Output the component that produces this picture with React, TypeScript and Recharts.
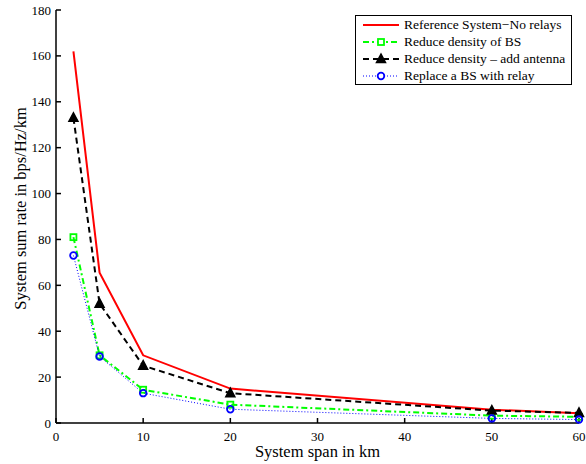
import React from 'react';
import { LineChart, Line, XAxis, YAxis, Legend } from 'recharts';

const spans = [2, 5, 10, 20, 50, 60];
const refSystem = [162, 65.5, 29.5, 15, 5.8, 4.3];
const reduceDensity = [81, 29.5, 14.5, 8, 3.2, 2.7];
const addAntenna = [133, 52, 25, 13, 5.4, 4.4];
const relayBS = [73, 29, 13, 6, 2, 1.5];

const xTicks = [0, 10, 20, 30, 40, 50, 60];
const yTicks = [0, 20, 40, 60, 80, 100, 120, 140, 160, 180];

const seriesNames = [
  'Reference System\u2212No relays',
  'Reduce density of BS',
  'Reduce density \u2013 add antenna',
  'Replace a BS with relay',
];
const xLabel = 'System span in km';
const yLabel = 'System sum rate in bps/Hz/km';

const data = spans.map((s, i) => ({
  span: s,
  ref: refSystem[i],
  red: reduceDensity[i],
  ant: addAntenna[i],
  rel: relayBS[i],
}));

const FONT = '"Liberation Serif", "Times New Roman", serif';

const SquareDot = (props: any) => {
  const { cx, cy } = props;
  if (cx == null || cy == null) return null;
  return <rect key={`sq-${cx}`} x={cx - 3} y={cy - 3} width={6} height={6} fill="none" stroke="#00ff00" strokeWidth={1.8} />;
};

const TriDot = (props: any) => {
  const { cx, cy } = props;
  if (cx == null || cy == null) return null;
  return (
    <polygon
      key={`tr-${cx}`}
      points={`${cx},${cy - 5} ${cx - 4.5},${cy + 3.5} ${cx + 4.5},${cy + 3.5}`}
      fill="#000"
      stroke="#000"
      strokeWidth={1.5}
    />
  );
};

const CircleDot = (props: any) => {
  const { cx, cy } = props;
  if (cx == null || cy == null) return null;
  return <circle key={`ci-${cx}`} cx={cx} cy={cy} r={3.3} fill="none" stroke="#0000ff" strokeWidth={1.8} />;
};

const LegendContent = () => {
  const rows = [
    { line: <line x1={2} y1={7} x2={38} y2={7} stroke="#ff0000" strokeWidth={2} />, marker: null },
    {
      line: <line x1={2} y1={7} x2={38} y2={7} stroke="#00ff00" strokeWidth={2} strokeDasharray="6 3 2 3" />,
      marker: <rect x={17} y={4} width={6} height={6} fill="#fff" stroke="#00ff00" strokeWidth={1.8} />,
    },
    {
      line: <line x1={2} y1={7} x2={38} y2={7} stroke="#000" strokeWidth={2} strokeDasharray="6 4" />,
      marker: <polygon points="20,2 15.5,10.5 24.5,10.5" fill="#000" stroke="#000" strokeWidth={1.5} />,
    },
    {
      line: <line x1={2} y1={7} x2={38} y2={7} stroke="#0000ff" strokeWidth={1} strokeDasharray="1 2" />,
      marker: <circle cx={20} cy={7} r={3.3} fill="#fff" stroke="#0000ff" strokeWidth={1.8} />,
    },
  ];
  return (
    <div
      style={{
        boxSizing: 'border-box',
        width: 217,
        height: 70,
        border: '1px solid #000',
        background: '#fff',
        padding: '1px 0 0 5px',
        fontFamily: FONT,
        fontSize: 13.5,
        lineHeight: '16px',
        color: '#000',
        whiteSpace: 'nowrap',
        overflow: 'visible',
      }}
    >
      {rows.map((r, i) => (
        <div key={i} style={{ display: 'flex', alignItems: 'center', height: 16.8 }}>
          <svg width={40} height={14} style={{ marginRight: 3, flex: 'none' }}>
            {r.line}
            {r.marker}
          </svg>
          <span>{seriesNames[i]}</span>
        </div>
      ))}
    </div>
  );
};

const XLabel = (props: any) => {
  const vb = props.viewBox || {};
  return (
    <text x={vb.x + vb.width / 2} y={vb.y + 34} textAnchor="middle" fontFamily={FONT} fontSize={16.5} fill="#000">
      {xLabel}
    </text>
  );
};

const YLabel = (props: any) => {
  const vb = props.viewBox || {};
  const cx = 12;
  const cy = vb.y + vb.height / 2 - 8;
  return (
    <text
      x={cx}
      y={cy}
      transform={`rotate(-90, ${cx}, ${cy})`}
      textAnchor="middle"
      dominantBaseline="central"
      fontFamily={FONT}
      fontSize={16.5}
      fill="#000"
    >
      {yLabel}
    </text>
  );
};

const XTick = (props: any) => {
  const { x, y, payload } = props;
  return (
    <text x={x} y={y} dy={9.5} textAnchor="middle" fontFamily={FONT} fontSize={13} fill="#000">
      {payload.value}
    </text>
  );
};

const YTick = (props: any) => {
  const { x, y, payload } = props;
  return (
    <text x={x} y={y} dy={4.5} textAnchor="end" fontFamily={FONT} fontSize={13} fill="#000">
      {payload.value}
    </text>
  );
};

export default function App() {
  return (
    <div style={{ width: 586, height: 464, position: 'relative', overflow: 'hidden', fontFamily: FONT }}>
      <style>{'html,body{margin:0;padding:0;overflow:hidden;} .recharts-surface{overflow:visible;}'}</style>
      <div style={{ position: 'absolute', left: 8, top: 8, width: 578, height: 456 }}>
        <LineChart width={578} height={456} data={data} margin={{ top: 2, right: 7, bottom: 0, left: 0 }}>
          <XAxis
            xAxisId="b"
            dataKey="span"
            type="number"
            domain={[0, 60]}
            ticks={xTicks}
            interval={0}
            orientation="bottom"
            height={41}
            stroke="#000"
            strokeWidth={1.5}
            tickSize={-5}
            tickMargin={13}
            tick={<XTick />}
            label={<XLabel />}
          />
          <XAxis
            xAxisId="t"
            dataKey="span"
            type="number"
            domain={[0, 60]}
            ticks={xTicks}
            interval={0}
            orientation="top"
            height={0}
            stroke="#000"
            strokeWidth={1.5}
            tickSize={-5}
            tick={false}
          />
          <YAxis
            yAxisId="l"
            type="number"
            domain={[0, 180]}
            ticks={yTicks}
            interval={0}
            orientation="left"
            width={48}
            stroke="#000"
            strokeWidth={1.5}
            tickSize={-5}
            tickMargin={10}
            tick={<YTick />}
            label={<YLabel />}
          />
          <YAxis
            yAxisId="r"
            type="number"
            domain={[0, 180]}
            ticks={yTicks}
            interval={0}
            orientation="right"
            width={0}
            stroke="#000"
            strokeWidth={1.5}
            tickSize={-5}
            tick={false}
          />
          <Legend
            layout="vertical"
            align="center"
            verticalAlign="middle"
            content={<LegendContent />}
            wrapperStyle={{ position: 'absolute', left: 347, top: 7, width: 217, height: 70 }}
          />
          <Line xAxisId="b" yAxisId="l" dataKey="ref" stroke="#ff0000" strokeWidth={2} dot={false} isAnimationActive={false} />
          <Line xAxisId="b" yAxisId="l" dataKey="red" stroke="#00ff00" strokeWidth={2} strokeDasharray="6 3 2 3" dot={<SquareDot />} isAnimationActive={false} />
          <Line xAxisId="b" yAxisId="l" dataKey="ant" stroke="#000" strokeWidth={2} strokeDasharray="6 4" dot={<TriDot />} isAnimationActive={false} />
          <Line xAxisId="b" yAxisId="l" dataKey="rel" stroke="#0000ff" strokeWidth={1} strokeDasharray="1 2" dot={<CircleDot />} isAnimationActive={false} />
        </LineChart>
      </div>
    </div>
  );
}
